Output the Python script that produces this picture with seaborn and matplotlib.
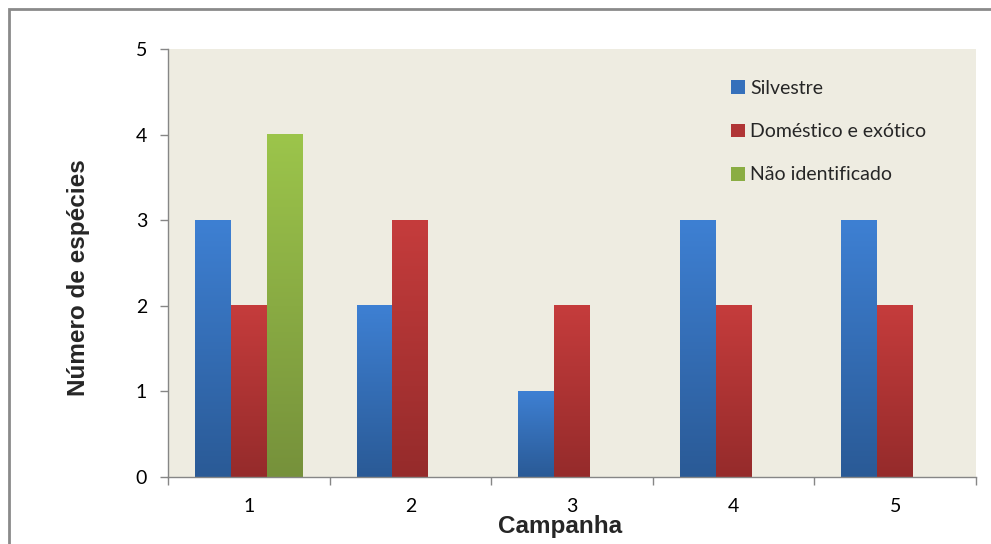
import numpy as np
import pandas as pd
import matplotlib
matplotlib.use("Agg")
import matplotlib.pyplot as plt
import seaborn as sns
from matplotlib.colors import LinearSegmentedColormap
from matplotlib.patches import Rectangle, Patch

# ---- data ----
campanhas = ["1", "2", "3", "4", "5"]
silvestre = [3, 2, 1, 3, 3]
domestico = [2, 3, 2, 2, 2]
nao_identificado = [4, 0, 0, 0, 0]
series = ["Silvestre", "Doméstico e exótico", "Não identificado"]
y_ticks = [0, 1, 2, 3, 4, 5]

df = pd.DataFrame({
    "Campanha": campanhas * 3,
    "Número": silvestre + domestico + nao_identificado,
    "Grupo": [s for s in series for _ in campanhas],
})

top_colors = ["#3e80d3", "#c53c3c", "#9cc54b"]
bot_colors = ["#2a5a96", "#952b2b", "#76913b"]
mid_colors = ["#3570bb", "#b03535", "#8aad43"]

sns.set_theme(style="white")
plt.rcParams["font.family"] = ["Lato", "DejaVu Sans"]

W, H = 991, 544
fig = plt.figure(figsize=(W / 100, H / 100), dpi=100)
fig.patch.set_facecolor("white")
ax = fig.add_axes([168 / W, 1 - 477 / H, (976 - 168) / W, (477 - 49) / H])
ax.set_facecolor("#eeece1")

sns.barplot(data=df, x="Campanha", y="Número", hue="Grupo", hue_order=series,
            palette=mid_colors, width=3 / 4.5, gap=0, saturation=1,
            edgecolor="none", linewidth=0, errorbar=None, ax=ax, legend=False)

# vertical gradients on the bars
for cont, ct, cb in zip(ax.containers, top_colors, bot_colors):
    cmap = LinearSegmentedColormap.from_list("g", [cb, ct])
    for bar in cont:
        h = bar.get_height()
        if h <= 0:
            continue
        x0 = bar.get_x()
        w = bar.get_width()
        grad = np.linspace(0, 1, 256).reshape(-1, 1)
        ax.imshow(grad, extent=[x0, x0 + w, 0, h], origin="lower", cmap=cmap,
                  aspect="auto", zorder=bar.get_zorder() + 0.1, interpolation="bicubic")

ax.set_xlim(-0.5, 4.5)
ax.set_ylim(0, 5)
ax.set_yticks(y_ticks)
ax.set_yticklabels([str(v) for v in y_ticks])
ax.set_xticks(range(len(campanhas)))
ax.set_xticklabels(campanhas)
ax.set_xticks(np.arange(-0.5, 5, 1), minor=True)

for s in ["top", "right"]:
    ax.spines[s].set_visible(False)
for s in ["left", "bottom"]:
    ax.spines[s].set_color("#868686")
    ax.spines[s].set_linewidth(1.0)

ax.tick_params(axis="y", which="major", left=True, length=6, width=1, color="#868686",
               labelsize=14, labelcolor="#000000", pad=9)
ax.tick_params(axis="x", which="major", bottom=True, length=0, labelsize=14,
               labelcolor="#000000", pad=15)
ax.tick_params(axis="x", which="minor", bottom=True, length=6, width=1, color="#868686")
ax.set_xlabel("")
ax.set_ylabel("")

fig.text(560 / W, 1 - 533 / H, "Campanha", ha="center", va="baseline",
         fontsize=17.5, fontweight="bold", family="Liberation Sans")
fig.text(79 / W, 1 - 278 / H, "Número de espécies", ha="center", va="center",
         rotation=90, fontsize=17.5, fontweight="bold", family="Liberation Sans")

handles = [Patch(facecolor=c, edgecolor="none") for c in mid_colors]
ax.legend(handles, series, loc="upper left", bbox_to_anchor=(731 / W, 1 - 80 / H),
          bbox_transform=fig.transFigure, frameon=False, fontsize=14,
          handlelength=0.7, handleheight=0.7, handletextpad=0.3,
          labelspacing=1.35, borderpad=0, borderaxespad=0)

# outer chart border
fig.patches.append(Rectangle((9 / W, -0.2), 1.2, 1 - 9 / H + 0.2, transform=fig.transFigure,
                             fill=False, edgecolor="#8a8a8a", linewidth=2, zorder=10))

fig.savefig("out.png", dpi=100)
